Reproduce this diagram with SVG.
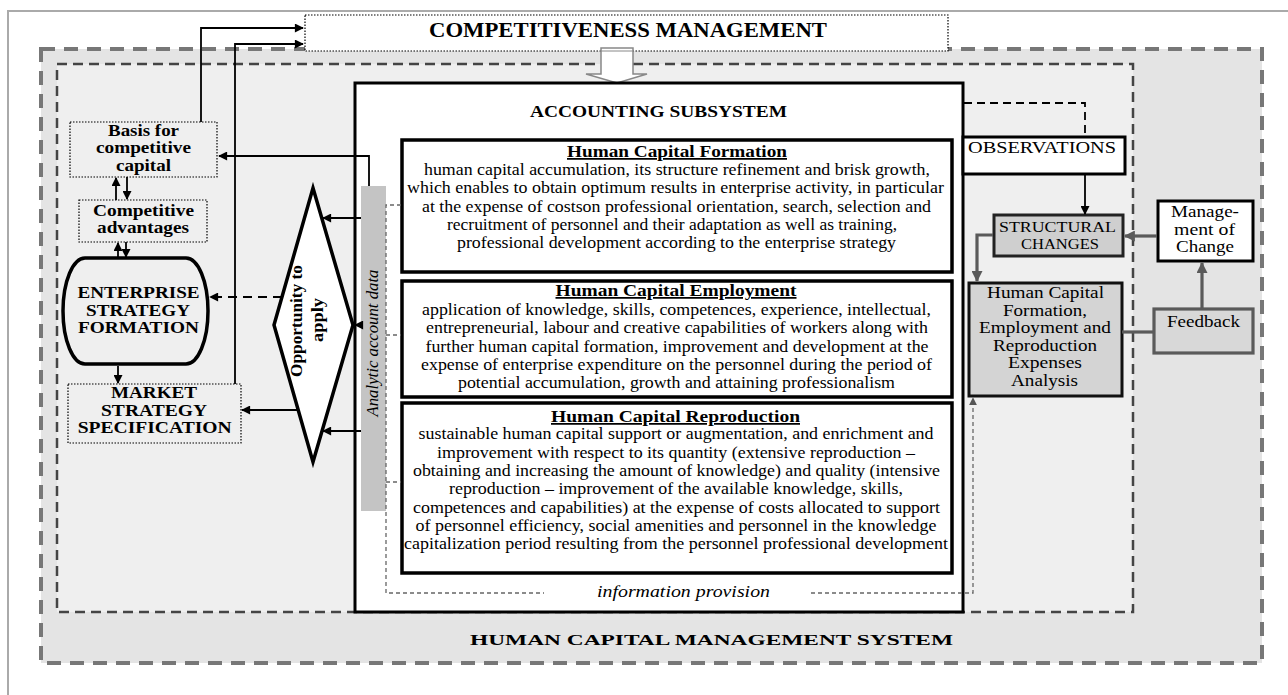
<svg xmlns="http://www.w3.org/2000/svg" width="1288" height="695" viewBox="0 0 1288 695">
<style>
text{font-family:"Liberation Serif","Times New Roman",serif;fill:#000}
.b{font-weight:bold}
.i{font-style:italic}
.c{text-anchor:middle}
.body{font-size:17px}
.ttl{font-size:17.5px;font-weight:bold;text-decoration:underline}
.dot{fill:none;stroke:#000;stroke-width:1.2;stroke-dasharray:1.5 1.5}
.thick{fill:#fff;stroke:#000;stroke-width:3.5}
.ln{fill:none;stroke:#000;stroke-width:1.8}
.gl{fill:none;stroke:#5a5a5a;stroke-width:3.2}
.gd{fill:none;stroke:#666;stroke-width:1.3;stroke-dasharray:4 3}
</style>
<defs>
<marker id="ab" viewBox="0 0 10 10" refX="9" refY="5" markerWidth="10" markerHeight="9" markerUnits="userSpaceOnUse" orient="auto"><path d="M0,0 L10,5 L0,10 Z" fill="#000"/></marker>
<marker id="ag" viewBox="0 0 10 10" refX="9" refY="5" markerWidth="12" markerHeight="11" markerUnits="userSpaceOnUse" orient="auto"><path d="M0,0 L10,5 L0,10 Z" fill="#5a5a5a"/></marker>
<marker id="ad" viewBox="0 0 10 10" refX="9" refY="5" markerWidth="8" markerHeight="8" markerUnits="userSpaceOnUse" orient="auto"><path d="M0,0 L10,5 L0,10 Z" fill="#555"/></marker>
</defs>

<rect width="1288" height="695" fill="#fff"/>
<rect x="8" y="11" width="1300" height="720" fill="none" stroke="#aaa" stroke-width="2"/>

<g id="hcms">
<rect x="41" y="49" width="1221" height="614" fill="#e4e4e4" stroke="#777" stroke-width="4" stroke-dasharray="14 9"/>
<rect x="57" y="64" width="1076" height="548" fill="#efefef" stroke="#444" stroke-width="2.5" stroke-dasharray="10 6"/>
<text class="b c" x="711.5" y="645" font-size="15" textLength="483" lengthAdjust="spacingAndGlyphs">HUMAN CAPITAL MANAGEMENT SYSTEM</text>
</g>

<g id="competitiveness">
<rect x="305" y="15" width="643" height="36" fill="#fff" class="dot" style="fill:#fff"/>
<text class="b c" x="628" y="37" font-size="20" textLength="398" lengthAdjust="spacingAndGlyphs">COMPETITIVENESS MANAGEMENT</text>
</g>

<g id="hollow-arrow">
<polygon points="601,48 633,48 633,74 647,74 617,83 586,74 601,74" fill="#fff" stroke="#888" stroke-width="1.5"/>
<line x1="601" y1="51" x2="633" y2="51" stroke="#888" stroke-width="1"/>
</g>

<g id="accounting">
<rect x="355" y="83" width="608" height="529" fill="#fff" stroke="#000" stroke-width="3"/>
<text class="b c" x="658.5" y="117" font-size="17" textLength="257" lengthAdjust="spacingAndGlyphs">ACCOUNTING SUBSYSTEM</text>
</g>

<g id="analytic-bar">
<rect x="361" y="186" width="25" height="325" fill="#c4c4c4"/>
<text class="i c" transform="translate(378,343) rotate(-90)" x="0" y="0" font-size="17" textLength="147" lengthAdjust="spacingAndGlyphs">Analytic account data</text>
</g>

<g id="hc-formation">
<rect x="402" y="140" width="550" height="132" class="thick"/>
<text class="ttl c" x="677" y="157" textLength="220" lengthAdjust="spacingAndGlyphs">Human Capital Formation</text>
<text class="body c" x="677" y="175" textLength="506" lengthAdjust="spacingAndGlyphs">human capital accumulation, its structure refinement and brisk growth,</text>
<text class="body c" x="675.5" y="193" textLength="537" lengthAdjust="spacingAndGlyphs">which enables to obtain optimum results in enterprise activity, in particular</text>
<text class="body c" x="676.5" y="212" textLength="509" lengthAdjust="spacingAndGlyphs">at the expense of costson professional orientation, search, selection and</text>
<text class="body c" x="672" y="230" textLength="450" lengthAdjust="spacingAndGlyphs">recruitment of personnel and their adaptation as well as training,</text>
<text class="body c" x="676.5" y="248" textLength="439" lengthAdjust="spacingAndGlyphs">professional development according to the enterprise strategy</text>
</g>

<g id="hc-employment">
<rect x="402" y="281" width="550" height="116" class="thick"/>
<text class="ttl c" x="676" y="296" textLength="241" lengthAdjust="spacingAndGlyphs">Human Capital Employment</text>
<text class="body c" x="676.5" y="315" textLength="509" lengthAdjust="spacingAndGlyphs">application of knowledge, skills, competences, experience, intellectual,</text>
<text class="body c" x="677" y="333" textLength="502" lengthAdjust="spacingAndGlyphs">entrepreneurial, labour and creative capabilities of workers along with</text>
<text class="body c" x="677" y="352" textLength="503" lengthAdjust="spacingAndGlyphs">further human capital formation, improvement and development at the</text>
<text class="body c" x="676.5" y="370" textLength="511" lengthAdjust="spacingAndGlyphs">expense of enterprise expenditure on the personnel during the period of</text>
<text class="body c" x="676.5" y="388" textLength="437" lengthAdjust="spacingAndGlyphs">potential accumulation, growth and attaining professionalism</text>
</g>

<g id="hc-reproduction">
<rect x="402" y="403" width="550" height="170" class="thick"/>
<text class="ttl c" x="675.5" y="422" textLength="249" lengthAdjust="spacingAndGlyphs">Human Capital Reproduction</text>
<text class="body c" x="676" y="439" textLength="515" lengthAdjust="spacingAndGlyphs">sustainable human capital support or augmentation, and enrichment and</text>
<text class="body c" x="676" y="458" textLength="478" lengthAdjust="spacingAndGlyphs">improvement with respect to its quantity (extensive reproduction –</text>
<text class="body c" x="676.5" y="476" textLength="527" lengthAdjust="spacingAndGlyphs">obtaining and increasing the amount of knowledge) and quality (intensive</text>
<text class="body c" x="676" y="494" textLength="454" lengthAdjust="spacingAndGlyphs">reproduction – improvement of the available knowledge, skills,</text>
<text class="body c" x="676.5" y="513" textLength="527" lengthAdjust="spacingAndGlyphs">competences and capabilities) at the expense of costs allocated to support</text>
<text class="body c" x="676" y="531" textLength="521" lengthAdjust="spacingAndGlyphs">of personnel efficiency, social amenities and personnel in the knowledge</text>
<text class="body c" x="676" y="549" textLength="544" lengthAdjust="spacingAndGlyphs">capitalization period resulting from the personnel professional development</text>
</g>

<g id="info-provision">
<text class="i c" x="683.5" y="597" font-size="17" textLength="173" lengthAdjust="spacingAndGlyphs">information provision</text>
</g>

<g id="basis">
<rect x="70" y="122" width="147" height="55" class="dot"/>
<text class="b c" x="143.5" y="136" font-size="17" textLength="71" lengthAdjust="spacingAndGlyphs">Basis for</text>
<text class="b c" x="143.5" y="153" font-size="17" textLength="95" lengthAdjust="spacingAndGlyphs">competitive</text>
<text class="b c" x="143.5" y="171" font-size="17" textLength="55" lengthAdjust="spacingAndGlyphs">capital</text>
</g>

<g id="advantages">
<rect x="79" y="200" width="128" height="42" class="dot"/>
<text class="b c" x="143.5" y="216" font-size="17" textLength="101" lengthAdjust="spacingAndGlyphs">Competitive</text>
<text class="b c" x="143" y="233" font-size="17" textLength="92" lengthAdjust="spacingAndGlyphs">advantages</text>
</g>

<g id="enterprise">
<path d="M85,258 H186 A22,53 0 0 1 186,364 H85 A22,53 0 0 1 85,258 Z" fill="#efefef" stroke="#000" stroke-width="3.5"/>
<text class="b c" x="138.5" y="298" font-size="17" textLength="122" lengthAdjust="spacingAndGlyphs">ENTERPRISE</text>
<text class="b c" x="138" y="316" font-size="17" textLength="104" lengthAdjust="spacingAndGlyphs">STRATEGY</text>
<text class="b c" x="138.5" y="333" font-size="17" textLength="121" lengthAdjust="spacingAndGlyphs">FORMATION</text>
</g>

<g id="market">
<rect x="68" y="384" width="173" height="59" class="dot"/>
<text class="b c" x="154" y="398" font-size="17" textLength="86" lengthAdjust="spacingAndGlyphs">MARKET</text>
<text class="b c" x="154" y="416" font-size="17" textLength="106" lengthAdjust="spacingAndGlyphs">STRATEGY</text>
<text class="b c" x="154.7" y="433" font-size="17" textLength="154" lengthAdjust="spacingAndGlyphs">SPECIFICATION</text>
</g>

<g id="opportunity">
<polygon points="313,188 353,325 313,462 274,325" fill="#fff" stroke="#000" stroke-width="3.5" stroke-linejoin="miter"/>
<text class="b c" transform="translate(302,321) rotate(-90)" x="0" y="0" font-size="17" textLength="112" lengthAdjust="spacingAndGlyphs">Opportunity to</text>
<text class="b c" transform="translate(323,320) rotate(-90)" x="0" y="0" font-size="17" textLength="44" lengthAdjust="spacingAndGlyphs">apply</text>
</g>

<g id="observations">
<rect x="963" y="137" width="162" height="37" fill="#fff" stroke="#000" stroke-width="3"/>
<text class="c" x="1042" y="153" font-size="17.5" textLength="148" lengthAdjust="spacingAndGlyphs">OBSERVATIONS</text>
</g>

<g id="structural">
<rect x="994" y="215" width="129" height="41" fill="#cfcfcf" stroke="#222" stroke-width="3"/>
<text class="c" x="1057.5" y="232" font-size="15" textLength="117" lengthAdjust="spacingAndGlyphs">STRUCTURAL</text>
<text class="c" x="1060" y="249" font-size="15" textLength="78" lengthAdjust="spacingAndGlyphs">CHANGES</text>
</g>

<g id="management-change">
<rect x="1158" y="201" width="95" height="60" fill="#fff" stroke="#000" stroke-width="3"/>
<text class="c" x="1205" y="217" font-size="17" textLength="68" lengthAdjust="spacingAndGlyphs">Manage-</text>
<text class="c" x="1204.5" y="235" font-size="17" textLength="61" lengthAdjust="spacingAndGlyphs">ment of</text>
<text class="c" x="1205" y="252" font-size="17" textLength="58" lengthAdjust="spacingAndGlyphs">Change</text>
</g>

<g id="hc-analysis">
<rect x="969" y="283" width="153" height="113" fill="#d4d4d4" stroke="#111" stroke-width="3"/>
<text class="c" x="1045.5" y="298" font-size="17" textLength="117" lengthAdjust="spacingAndGlyphs">Human Capital</text>
<text class="c" x="1045" y="316" font-size="17" textLength="84" lengthAdjust="spacingAndGlyphs">Formation,</text>
<text class="c" x="1045" y="333" font-size="17" textLength="132" lengthAdjust="spacingAndGlyphs">Employment and</text>
<text class="c" x="1045" y="351" font-size="17" textLength="104" lengthAdjust="spacingAndGlyphs">Reproduction</text>
<text class="c" x="1045" y="368" font-size="17" textLength="74" lengthAdjust="spacingAndGlyphs">Expenses</text>
<text class="c" x="1044.5" y="386" font-size="17" textLength="67" lengthAdjust="spacingAndGlyphs">Analysis</text>
</g>

<g id="feedback">
<rect x="1154" y="309" width="99" height="44" fill="#d8d8d8" stroke="#5a5a5a" stroke-width="3.2"/>
<text class="c" x="1203.5" y="327" font-size="17" textLength="73" lengthAdjust="spacingAndGlyphs">Feedback</text>
</g>

<g id="connectors">
<path class="ln" d="M201,122 V28 H303" marker-end="url(#ab)"/>
<path class="ln" d="M235,384 V44 H303" marker-end="url(#ab)"/>
<path class="ln" d="M369,186 V156 H219" marker-end="url(#ab)"/>
<path class="ln" d="M116,200 V178" marker-end="url(#ab)"/>
<path class="ln" d="M127,177 V199" marker-end="url(#ab)"/>
<path class="ln" d="M118,257 V243" marker-end="url(#ab)"/>
<path class="ln" d="M126,242 V257" marker-end="url(#ab)"/>
<path class="ln" d="M282,297 H210" stroke-dasharray="9 6" marker-end="url(#ab)"/>
<path class="ln" d="M118,366 V383" marker-end="url(#ab)"/>
<path class="ln" d="M298,410 H242" marker-end="url(#ab)"/>
<path class="ln" d="M361,218 H323" marker-end="url(#ab)"/>
<path class="ln" d="M361,325 H355" marker-end="url(#ab)"/>
<path class="ln" d="M361,431 H323" marker-end="url(#ab)"/>
<path class="gd" d="M401,205 H386 V593 H544"/>
<path class="gd" d="M386,335 H401 M386,482 H401"/>
<path class="gd" d="M811,593 H973 V398" marker-end="url(#ad)"/>
<path class="ln" d="M964,103 H1085 V136" stroke-width="2" stroke-dasharray="8 5"/>
<path class="ln" d="M1085,175 V214" marker-end="url(#ab)"/>
<path class="gl" d="M993,235 H977 V281" marker-end="url(#ag)"/>
<path class="gl" d="M1157,236 H1125" marker-end="url(#ag)"/>
<path class="gl" d="M1202,308 V263" marker-end="url(#ag)"/>
<path class="gl" d="M1122,332 H1154"/>
</g>
</svg>
